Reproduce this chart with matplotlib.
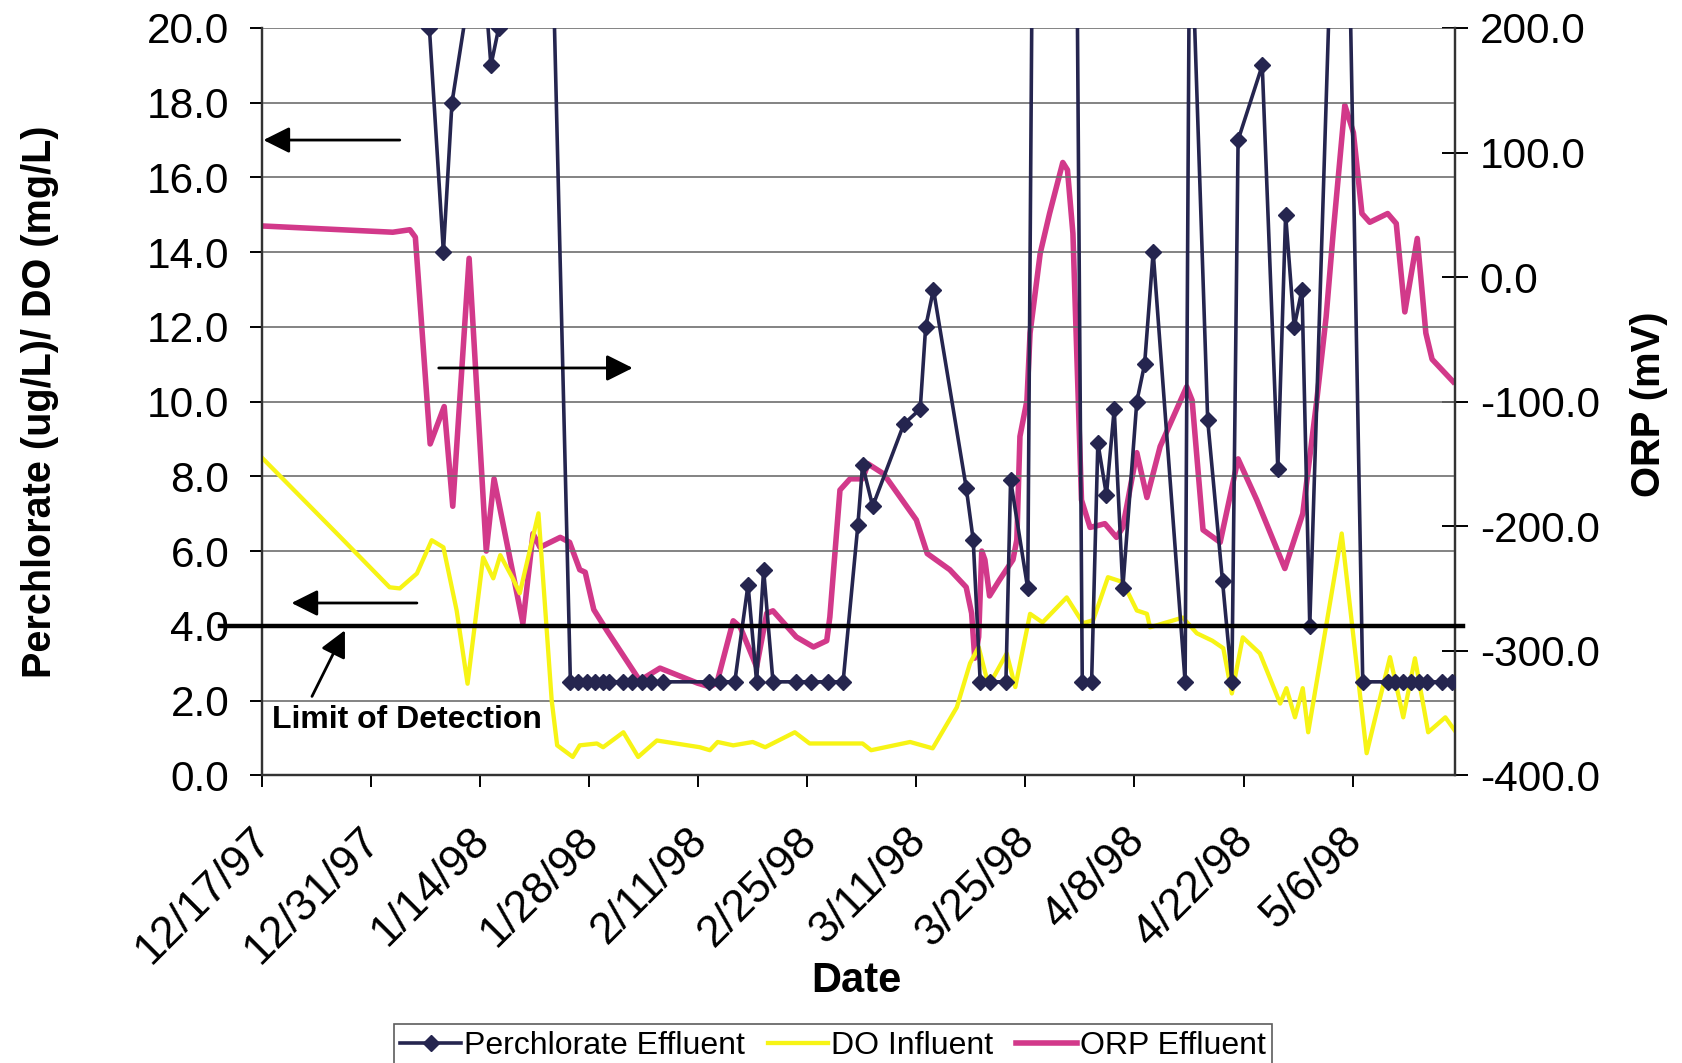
import matplotlib
matplotlib.use("Agg")
import matplotlib.pyplot as plt
from matplotlib.ticker import FormatStrFormatter, MultipleLocator

plt.rcParams['font.family'] = ['Liberation Sans', 'DejaVu Sans']

# x = days since 12/17/97
tick_days = [0, 14, 28, 42, 56, 70, 84, 98, 112, 126, 140]
tick_labels = ['12/17/97', '12/31/97', '1/14/98', '1/28/98', '2/11/98', '2/25/98',
               '3/11/98', '3/25/98', '4/8/98', '4/22/98', '5/6/98']

# Perchlorate effluent (ug/L), left axis
perc_days = [21.5, 23.3, 24.4, 28.0, 29.4, 30.4, 31.5,
             39.6, 40.6, 41.7, 42.7, 43.8, 44.6, 46.4, 47.5, 48.8, 49.9, 51.5,
             57.4, 58.8, 60.7, 62.4, 63.5, 64.4, 65.6, 68.6, 70.5, 72.6, 74.6,
             76.5, 77.1, 78.4, 82.4, 84.5, 85.2, 86.2, 90.4, 91.3,
             92.2, 93.4, 95.5, 96.1, 98.3, 101.7,
             105.3, 106.5, 107.3, 108.4, 109.4, 110.5, 112.3, 113.3, 114.4,
             118.5, 119.1, 121.4, 123.3, 124.5, 125.3, 128.4, 130.4, 131.4,
             132.5, 133.5, 134.5, 138.7,
             141.3, 144.5, 145.5, 146.5, 147.5, 148.5, 149.5, 151.5, 152.8]
perc_vals = [20.0, 14.0, 18.0, 22.8, 19.0, 20.0, 72.0,
             2.5, 2.5, 2.5, 2.5, 2.5, 2.5, 2.5, 2.5, 2.5, 2.5, 2.5,
             2.5, 2.5, 2.5, 5.1, 2.5, 5.5, 2.5, 2.5, 2.5, 2.5, 2.5,
             6.7, 8.3, 7.2, 9.4, 9.8, 12.0, 13.0, 7.7, 6.3,
             2.5, 2.5, 2.5, 7.9, 5.0, 105.0,
             2.5, 2.5, 8.9, 7.5, 9.8, 5.0, 10.0, 11.0, 14.0,
             2.5, 24.0, 9.5, 5.2, 2.5, 17.0, 19.0, 8.2, 15.0,
             12.0, 13.0, 4.0, 32.0,
             2.5, 2.5, 2.5, 2.5, 2.5, 2.5, 2.5, 2.5, 2.5]

# DO influent (mg/L), left axis
do_days = [0.1, 10.1, 16.4, 17.7, 19.9, 21.8, 23.3, 25.0, 26.4, 28.4, 29.7, 30.6,
           32.2, 33.1, 35.5, 37.2, 37.9, 39.9, 40.8, 43.0, 43.8, 46.4, 48.3, 50.7,
           56.2, 57.5, 58.5, 60.5, 63.0, 64.6, 68.4, 70.3, 77.1, 78.2, 83.2, 86.1,
           89.2, 90.9, 92.0, 93.1, 93.9, 95.6, 96.7, 98.6, 100.2, 103.3, 105.4,
           106.7, 108.6, 110.5, 112.3, 113.6, 114.0, 118.2, 120.0, 122.0, 123.4,
           124.5, 125.9, 128.1, 130.7, 131.5, 132.6, 133.6, 134.3, 138.6, 141.8,
           144.8, 146.5, 148.0, 149.7, 151.9, 153.1]
do_vals = [8.48, 6.37, 5.03, 5.0, 5.4, 6.29, 6.1, 4.41, 2.45, 5.83, 5.27, 5.89,
           5.27, 4.87, 7.01, 2.0, 0.8, 0.49, 0.8, 0.85, 0.75, 1.15, 0.49, 0.93,
           0.75, 0.67, 0.89, 0.8, 0.89, 0.75, 1.15, 0.85, 0.85, 0.67, 0.89, 0.72,
           1.82, 3.0, 3.43, 2.54, 2.62, 3.26, 2.36, 4.32, 4.09, 4.76, 4.07,
           4.15, 5.3, 5.17, 4.41, 4.32, 3.96, 4.22, 3.8, 3.6, 3.4,
           2.19, 3.69, 3.26, 1.92, 2.33, 1.55, 2.33, 1.15, 6.47, 0.59,
           3.16, 1.55, 3.13, 1.15, 1.55, 1.2]

# ORP effluent (mV), right axis
orp_days = [0.1, 16.8, 19.0, 19.7, 21.6, 23.4, 24.5, 26.6, 28.8, 29.8, 33.5, 34.8,
            35.7, 38.3, 39.5, 40.8, 41.5, 42.6, 44.3, 48.5, 51.1, 55.9, 57.5, 58.4,
            60.5, 61.4, 63.5, 64.8, 65.6, 68.6, 70.8, 72.5, 72.9, 74.2, 75.5, 77.1,
            77.8, 79.8, 84.0, 85.4, 88.3, 90.4, 91.1, 91.5, 92.0, 92.4, 92.8, 93.4,
            94.7, 96.4, 96.9, 97.3, 98.2, 98.6, 99.9, 101.1, 102.8, 103.4, 104.1,
            105.2, 106.3, 107.6, 108.2, 109.7, 110.5, 112.3, 113.6, 115.3, 118.7,
            119.4, 120.8, 123.0, 125.3, 127.7, 131.3, 133.6, 135.4, 136.6, 137.5,
            139.0, 140.1, 141.2, 142.2, 144.5, 145.6, 146.7, 148.3, 149.4, 150.2,
            152.9]
orp_vals = [41, 36, 38, 32, -134, -104, -184, 15, -220, -162, -278, -206,
            -217, -209, -213, -235, -237, -267, -284, -324, -314, -326, -329, -326,
            -276, -281, -313, -270, -268, -289, -297, -292, -273, -171, -162, -162,
            -150, -158, -195, -222, -235, -249, -270, -306, -289, -220, -227, -256,
            -243, -227, -211, -128, -99, -45, 19, 51, 92, 86, 35,
            -179, -201, -199, -198, -209, -201, -141, -177, -136, -88,
            -99, -203, -213, -146, -179, -234, -190, -99, -32, 35,
            138, 116, 51, 44, 51, 43, -28, 31, -45, -66,
            -84]

lod = 4.0

navy = '#25254f'
yellow = '#f7f415'
magenta = '#d2398a'

fig = plt.figure(figsize=(16.83, 10.63), dpi=100)
ax1 = fig.add_axes([0.1556, 0.2707, 0.7092, 0.703])
ax2 = ax1.twinx()
ax1.set_zorder(ax2.get_zorder() + 1)
ax1.patch.set_visible(False)

l_orp, = ax2.plot(orp_days, orp_vals, color=magenta, lw=4.0, label='ORP Effluent')
l_do, = ax1.plot(do_days, do_vals, color=yellow, lw=3.1, label='DO Influent', zorder=2)
l_perc, = ax1.plot(perc_days, perc_vals, color=navy, lw=2.6, marker='D', ms=8,
                   label='Perchlorate Effluent', zorder=3)

ax1.set_xlim(0, 153.2)
ax1.set_ylim(0, 20)
ax2.set_ylim(-400, 200)

ax1.yaxis.set_major_locator(MultipleLocator(2))
ax1.yaxis.set_major_formatter(FormatStrFormatter('%.1f'))
ax2.yaxis.set_major_locator(MultipleLocator(100))
ax2.yaxis.set_major_formatter(FormatStrFormatter('%.1f'))
ax1.set_xticks(tick_days)
ax1.set_xticklabels(tick_labels, rotation=45, ha='right', va='center_baseline',
                    rotation_mode='anchor')

ax1.grid(axis='y', color='#6e6e6e', lw=1.2, zorder=0)
for a in (ax1, ax2):
    a.spines['top'].set_visible(False)
    for s in a.spines.values():
        s.set_color('#333333')
        s.set_linewidth(1.6)

ax1.tick_params(axis='y', direction='out', length=8.5, width=1.4, labelsize=30.5, pad=15)
ax1.tick_params(axis='x', direction='out', length=8.5, width=1.4, labelsize=32, pad=32)
ax2.tick_params(axis='y', direction='inout', length=19, width=1.4, labelsize=30.5, pad=8)

ax1.set_ylabel('Perchlorate (ug/L)/ DO (mg/L)', fontsize=28.5, fontweight='bold')
ax1.yaxis.set_label_coords(-0.1696, 0.5)
ax2.set_ylabel('ORP (mV)', fontsize=28.8, fontweight='bold', rotation=90)
ax2.yaxis.set_label_coords(1.146, 0.497)
ax1.set_xlabel('Date', fontsize=30, fontweight='bold')
ax1.xaxis.set_label_coords(0.4977, -0.249)

# limit of detection line and notes
ax1.plot([-0.035, 1.006], [lod, lod], color='black', lw=3.2,
         transform=ax1.get_yaxis_transform(), clip_on=False, zorder=4)
ax1.text(1.3, 1.26, 'Limit of Detection', fontsize=23, fontweight='bold', va='baseline', zorder=5)
arrow = dict(arrowstyle='-|>,head_length=0.8,head_width=0.4', color='black', lw=2,
             mutation_scale=20, shrinkA=0, shrinkB=0)
ax1.annotate('', xy=(10.66, 3.88), xytext=(6.43, 2.11), arrowprops=arrow, zorder=5)
ax1.annotate('', xy=(0.2, 17.0), xytext=(17.7, 17.0), arrowprops=arrow, zorder=5)
ax1.annotate('', xy=(3.8, 4.61), xytext=(19.9, 4.61), arrowprops=arrow, zorder=5)
ax1.annotate('', xy=(47.6, 10.9), xytext=(22.7, 10.9), arrowprops=arrow, zorder=5)

leg = fig.legend(handles=[l_perc, l_do, l_orp], loc='lower center',
                 bbox_to_anchor=(0.495, -0.004), ncol=3, fontsize=23, frameon=True,
                 fancybox=False, edgecolor='#333333', handlelength=1.9,
                 handletextpad=0.1, columnspacing=0.7, borderpad=0.2,
                 borderaxespad=0.0)
leg.get_frame().set_linewidth(1.2)

fig.savefig('out.png', dpi=100)
